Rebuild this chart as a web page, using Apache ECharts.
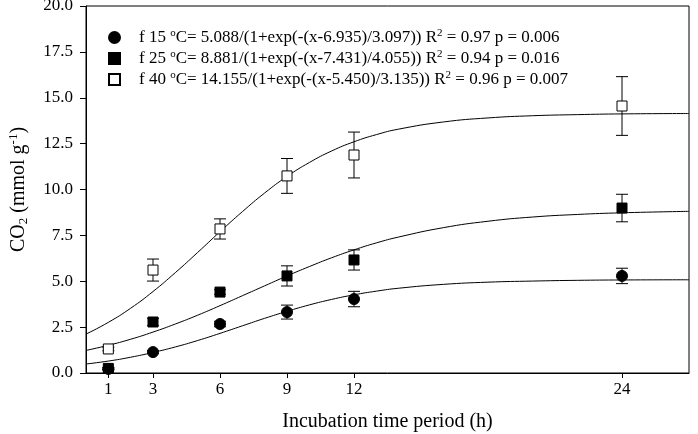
<!DOCTYPE html>
<html><head><meta charset="utf-8">
<script src="https://cdn.jsdelivr.net/npm/echarts@6/dist/echarts.min.js"></script>
<style>html,body{margin:0;padding:0;background:#fff}#c{width:698px;height:434px}</style>
</head><body><div id="c"></div>
<script>
var hours = [1, 3, 6, 9, 12, 24];
var xTicks = [1, 3, 6, 9, 12, 24];
var t15 = [0.22, 1.14, 2.67, 3.32, 4.03, 5.29];
var e15 = [0.05, 0.08, 0.15, 0.38, 0.42, 0.42];
var t25 = [0.25, 2.78, 4.41, 5.29, 6.16, 8.99];
var e25 = [0.05, 0.2, 0.12, 0.55, 0.55, 0.75];
var t40 = [1.31, 5.61, 7.85, 10.74, 11.88, 14.55];
var e40 = [0.1, 0.6, 0.55, 0.95, 1.25, 1.6];
var curveX = [0,1,2,3,4,5,6,7,8,9,10,11,12,13,14,16,18,20,22,24,27];
var fit15 = [0.49,0.65,0.86,1.12,1.42,1.77,2.16,2.57,2.98,3.36,3.71,4.01,4.26,4.46,4.62,4.83,4.95,5.01,5.05,5.07,5.08];
var fit25 = [1.23,1.51,1.84,2.23,2.67,3.15,3.67,4.21,4.75,5.29,5.80,6.28,6.71,7.09,7.41,7.92,8.27,8.50,8.64,8.73,8.81];
var fit40 = [2.12,2.76,3.53,4.44,5.47,6.57,7.70,8.79,9.81,10.71,11.47,12.10,12.60,12.99,13.29,13.68,13.90,14.02,14.08,14.12,14.14];
var seriesNames = ['f15', 'f25', 'f40'];
var legendTexts = [
  ['f 15 ', 'C= 5.088/(1+exp(-(x-6.935)/3.097)) R', ' = 0.97 p = 0.006'],
  ['f 25 ', 'C= 8.881/(1+exp(-(x-7.431)/4.055)) R', ' = 0.94 p = 0.016'],
  ['f 40 ', 'C= 14.155/(1+exp(-(x-5.450)/3.135)) R', ' = 0.96 p = 0.007']
];

var FONT = '"Liberation Serif", "Times New Roman", serif';
function pairs(xs, ys) { return xs.map(function (x, i) { return [x, ys[i]]; }); }
function errData(ys, es) { return hours.map(function (x, i) { return [x, ys[i] - es[i], ys[i] + es[i]]; }); }

function errSeries(ys, es) {
  return {
    type: 'custom', silent: true, z: 2,
    data: errData(ys, es),
    renderItem: function (params, api) {
      var lo = api.coord([api.value(0), api.value(1)]);
      var hi = api.coord([api.value(0), api.value(2)]);
      var w = 6;
      var st = { stroke: '#000', lineWidth: 1 };
      return { type: 'group', children: [
        { type: 'line', shape: { x1: lo[0], y1: lo[1], x2: hi[0], y2: hi[1] }, style: st },
        { type: 'line', shape: { x1: lo[0] - w, y1: lo[1], x2: lo[0] + w, y2: lo[1] }, style: st },
        { type: 'line', shape: { x1: hi[0] - w, y1: hi[1], x2: hi[0] + w, y2: hi[1] }, style: st }
      ]};
    }
  };
}
function fitSeries(ys) {
  return { type: 'line', data: pairs(curveX, ys), smooth: true, showSymbol: false, silent: true, z: 1,
    lineStyle: { color: '#000', width: 1 } };
}

var chart = echarts.init(document.getElementById('c'), null, { renderer: 'canvas' });
chart.setOption({
  animation: false,
  textStyle: { fontFamily: FONT, color: '#000' },
  grid: { left: 86, right: 9, top: 6, bottom: 61, outerBoundsMode: 'none', containLabel: false,
    show: true, borderColor: '#000', borderWidth: 1, backgroundColor: 'transparent' },
  legend: {
    data: seriesNames, orient: 'vertical', left: 103, top: 23, itemGap: 3, itemWidth: 11, itemHeight: 11,
    selectedMode: false,
    formatter: function (name) {
      var t = legendTexts[seriesNames.indexOf(name)];
      return '{n|' + t[0] + '}{s|o}{n|' + t[1] + '}{s|2}{n|' + t[2] + '}';
    },
    textStyle: {
      fontFamily: FONT, color: '#000', padding: [0, 0, 0, 14],
      rich: {
        n: { fontFamily: FONT, fontSize: 17, color: '#000', lineHeight: 19 },
        s: { fontFamily: FONT, fontSize: 11, color: '#000', verticalAlign: 'top', lineHeight: 11 }
      }
    }
  },
  xAxis: {
    type: 'value', min: 0, max: 27,
    name: 'Incubation time period (h)', nameLocation: 'middle', nameGap: 39,
    nameTextStyle: { fontFamily: FONT, fontSize: 20, color: '#000' },
    axisLine: { lineStyle: { color: '#000', width: 1 } },
    axisTick: { show: true, inside: false, length: 5, customValues: xTicks, lineStyle: { color: '#000' } },
    axisLabel: { customValues: xTicks, fontFamily: FONT, fontSize: 17, color: '#000', margin: 8 },
    splitLine: { show: false }
  },
  yAxis: {
    type: 'value', min: 0, max: 20, interval: 2.5,
    name: '{n|CO}{sub|2}{n| (mmol g}{sup|-1}{n|)}', nameLocation: 'middle', nameGap: 56, nameRotate: 90,
    nameTextStyle: {
      fontFamily: FONT, color: '#000',
      rich: {
        n: { fontFamily: FONT, fontSize: 20, color: '#000', lineHeight: 23 },
        sub: { fontFamily: FONT, fontSize: 13, color: '#000', verticalAlign: 'bottom', lineHeight: 14 },
        sup: { fontFamily: FONT, fontSize: 13, color: '#000', verticalAlign: 'top', lineHeight: 14 }
      }
    },
    axisLine: { show: true, lineStyle: { color: '#000', width: 1 } },
    axisTick: { show: true, inside: false, length: 6, lineStyle: { color: '#000' } },
    axisLabel: { fontFamily: FONT, fontSize: 17, color: '#000', margin: 13, formatter: function (v) { return v.toFixed(1); } },
    splitLine: { show: false }
  },
  series: [
    fitSeries(fit15), fitSeries(fit25), fitSeries(fit40),
    errSeries(t15, e15), errSeries(t25, e25), errSeries(t40, e40),
    { name: seriesNames[0], type: 'scatter', z: 5, data: pairs(hours, t15), symbol: 'circle', symbolSize: 11,
      itemStyle: { color: '#000', borderColor: '#000', borderWidth: 1, opacity: 1 } },
    { name: seriesNames[1], type: 'scatter', z: 5, data: pairs(hours, t25), symbol: 'rect', symbolSize: 10,
      itemStyle: { color: '#000', borderColor: '#000', borderWidth: 1, opacity: 1 } },
    { name: seriesNames[2], type: 'scatter', z: 5, data: pairs(hours, t40), symbol: 'rect', symbolSize: 10,
      itemStyle: { color: '#fff', borderColor: '#000', borderWidth: 1, opacity: 1 } }
  ]
});
</script></body></html>
